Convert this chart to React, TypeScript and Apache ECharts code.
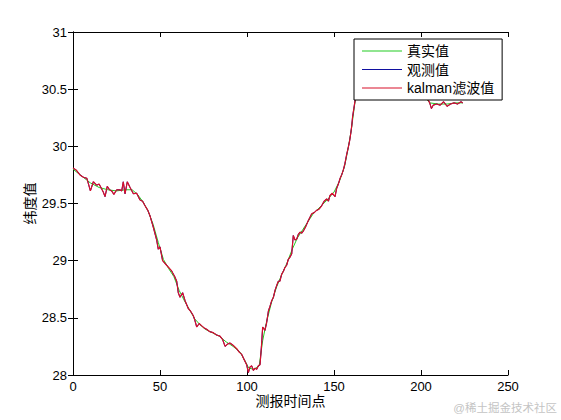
import React, { useEffect, useRef } from "react";
import * as echarts from "echarts";

// True values (smooth)
const trueX = [0, 5, 10, 15, 20, 25, 30, 34, 37, 40, 43, 46, 49, 52, 55, 58, 61, 64, 67, 70, 73, 76, 80, 84, 88, 92, 96, 99, 101, 104, 107, 109, 111, 114, 117, 120, 123, 126, 129, 132, 135, 138, 142, 146, 150, 153, 156, 158, 160, 162, 164, 170, 180, 190, 200, 205, 210, 215, 220, 224];
const trueY = [29.8, 29.74, 29.68, 29.64, 29.62, 29.61, 29.62, 29.62, 29.58, 29.52, 29.44, 29.32, 29.16, 29.01, 28.93, 28.86, 28.74, 28.65, 28.57, 28.49, 28.44, 28.4, 28.37, 28.34, 28.29, 28.25, 28.2, 28.12, 28.06, 28.05, 28.08, 28.3, 28.45, 28.63, 28.77, 28.88, 28.98, 29.1, 29.2, 29.27, 29.34, 29.41, 29.47, 29.53, 29.6, 29.69, 29.82, 29.97, 30.15, 30.38, 30.5, 30.53, 30.53, 30.52, 30.47, 30.38, 30.37, 30.37, 30.38, 30.38];

// Time points for observed and filtered series
const measX = [0, 2, 4, 6, 8, 10, 11.7, 13.6, 15, 17.4, 18.4, 19.7, 21, 22.2, 23.5, 25.1, 27, 28, 28.9, 29.9, 31.2, 32.8, 34.7, 36.6, 38.5, 40, 41.4, 43, 44.3, 46.2, 48.1, 49, 50, 51.5, 53.8, 56.7, 58.5, 59.6, 60.5, 61.5, 63, 64.4, 66.3, 67.5, 69.1, 70, 71.1, 72.5, 74, 75.5, 76.8, 78.5, 80.6, 82.5, 84.5, 86, 87.4, 88.8, 90.2, 92, 94.1, 95.5, 97, 98.5, 99.8, 100.8, 101.7, 102.7, 103.7, 104.6, 105.6, 106.5, 107.5, 108.3, 109, 110.3, 111.2, 112.3, 113.2, 114.2, 115.2, 116.1, 117, 118, 118.9, 119.9, 121, 121.8, 122.8, 123.7, 124.7, 125.7, 126.6, 127.6, 128.6, 129.5, 130.5, 131.5, 132.4, 133.8, 135.2, 136.2, 137.2, 138.6, 140, 141.4, 142.9, 144.3, 145.8, 146.8, 147.7, 149, 150.6, 151.5, 152.5, 153.5, 154.4, 155.3, 156.3, 157.3, 158.2, 159, 159.6, 160.2, 160.7, 161.4, 162.1, 163, 164, 166, 170, 175, 180, 185, 190, 195, 200, 203, 205, 206, 207, 209, 211, 213, 215, 217, 219, 221, 223, 224];

// Observed values
const obsY = [29.81, 29.79, 29.75, 29.73, 29.72, 29.61, 29.69, 29.66, 29.67, 29.6, 29.56, 29.65, 29.62, 29.61, 29.58, 29.62, 29.62, 29.61, 29.69, 29.585, 29.69, 29.64, 29.585, 29.59, 29.53, 29.52, 29.48, 29.44, 29.39, 29.29, 29.18, 29.1, 29.12, 29.0, 28.96, 28.91, 28.86, 28.82, 28.72, 28.68, 28.72, 28.65, 28.58, 28.56, 28.52, 28.48, 28.42, 28.45, 28.43, 28.41, 28.4, 28.38, 28.37, 28.35, 28.34, 28.31, 28.25, 28.27, 28.28, 28.26, 28.23, 28.2, 28.18, 28.13, 28.09, 28.02, 28.07, 28.08, 28.04, 28.06, 28.05, 28.08, 28.09, 28.25, 28.42, 28.39, 28.45, 28.56, 28.6, 28.65, 28.68, 28.74, 28.78, 28.82, 28.82, 28.88, 28.91, 28.94, 28.96, 29.01, 29.03, 29.06, 29.22, 29.18, 29.19, 29.23, 29.25, 29.24, 29.26, 29.3, 29.35, 29.38, 29.41, 29.42, 29.44, 29.45, 29.48, 29.52, 29.54, 29.52, 29.57, 29.59, 29.56, 29.63, 29.67, 29.72, 29.75, 29.79, 29.85, 29.93, 29.99, 30.05, 30.11, 30.18, 30.26, 30.33, 30.4, 30.47, 30.52, 30.55, 30.54, 30.55, 30.53, 30.55, 30.52, 30.5, 30.48, 30.44, 30.38, 30.33, 30.36, 30.37, 30.36, 30.39, 30.35, 30.37, 30.38, 30.37, 30.39, 30.38];

// Kalman filtered values
const kalY = [29.81, 29.79, 29.75, 29.73, 29.72, 29.61, 29.69, 29.66, 29.67, 29.6, 29.56, 29.65, 29.62, 29.61, 29.58, 29.62, 29.62, 29.61, 29.69, 29.585, 29.69, 29.64, 29.585, 29.59, 29.53, 29.52, 29.48, 29.44, 29.39, 29.29, 29.18, 29.1, 29.12, 29.0, 28.96, 28.91, 28.86, 28.82, 28.72, 28.68, 28.72, 28.65, 28.58, 28.56, 28.52, 28.48, 28.42, 28.45, 28.43, 28.41, 28.4, 28.38, 28.37, 28.35, 28.34, 28.31, 28.25, 28.27, 28.28, 28.26, 28.23, 28.2, 28.18, 28.13, 28.09, 28.02, 28.07, 28.08, 28.04, 28.06, 28.05, 28.08, 28.09, 28.25, 28.42, 28.39, 28.45, 28.56, 28.6, 28.65, 28.68, 28.74, 28.78, 28.82, 28.82, 28.88, 28.91, 28.94, 28.96, 29.01, 29.03, 29.06, 29.22, 29.18, 29.19, 29.23, 29.25, 29.24, 29.26, 29.3, 29.35, 29.38, 29.41, 29.42, 29.44, 29.45, 29.48, 29.52, 29.54, 29.52, 29.57, 29.59, 29.56, 29.63, 29.67, 29.72, 29.75, 29.79, 29.85, 29.93, 29.99, 30.05, 30.11, 30.18, 30.26, 30.33, 30.4, 30.47, 30.52, 30.55, 30.54, 30.55, 30.53, 30.55, 30.52, 30.5, 30.48, 30.44, 30.38, 30.33, 30.36, 30.37, 30.36, 30.39, 30.35, 30.37, 30.38, 30.37, 30.39, 30.38];

const seriesNames = ["真实值", "观测值", "kalman滤波值"];
const seriesColors = ["#22cc22", "#1010a0", "#d8102a"];

const FONT = 'Arial, "Liberation Sans", "Noto Sans CJK SC", sans-serif';
const LINE_ICON = "path://M0,0L0,0ZM0,6.5L40,6.5L40,7.5L0,7.5ZM40,14L40,14Z";

export default function App() {
  const ref = useRef<HTMLDivElement>(null);
  useEffect(() => {
    if (!ref.current) return;
    const chart = echarts.init(ref.current, undefined, { renderer: "svg" });
    const pairs = (xs: number[], ys: number[]) => xs.map((x, i) => [x, ys[i]]);
    const lineStyle = { color: "#000", width: 1 };
    const option: any = {
      animation: false,
      backgroundColor: "#fff",
      textStyle: { fontFamily: FONT },
      grid: { left: 73, right: 53, top: 32, bottom: 45 },
      legend: {
        left: 354,
        top: 39,
        orient: "vertical",
        backgroundColor: "#fff",
        borderColor: "#000",
        borderWidth: 1,
        borderRadius: 0,
        padding: [5, 8, 5, 8],
        itemWidth: 40,
        itemHeight: 14,
        itemGap: 4.5,
        icon: LINE_ICON,
        textStyle: { fontSize: 14, color: "#000", fontFamily: FONT },
        data: seriesNames,
      },
      xAxis: [
        {
          type: "value",
          min: 0,
          max: 250,
          interval: 50,
          name: "测报时间点",
          nameLocation: "middle",
          nameGap: 19,
          nameMoveOverlap: false,
          nameTextStyle: { fontSize: 14, color: "#000", fontFamily: FONT },
          axisLine: { lineStyle },
          axisTick: { inside: true, length: 5, lineStyle },
          axisLabel: { color: "#000", fontSize: 13, margin: 5, fontFamily: FONT },
          splitLine: { show: false },
        },
        {
          type: "value",
          position: "top",
          min: 0,
          max: 250,
          interval: 50,
          axisLine: { show: true, lineStyle },
          axisTick: { inside: true, length: 5, lineStyle },
          axisLabel: { show: false },
          splitLine: { show: false },
        },
      ],
      yAxis: [
        {
          type: "value",
          min: 28,
          max: 31,
          interval: 0.5,
          name: "纬度值",
          nameLocation: "middle",
          nameGap: 36,
          nameMoveOverlap: false,
          nameTextStyle: { fontSize: 14, color: "#000", fontFamily: FONT },
          axisLine: { show: true, lineStyle },
          axisTick: { show: true, inside: true, length: 5, lineStyle },
          axisLabel: { color: "#000", fontSize: 13, margin: 6, fontFamily: FONT },
          splitLine: { show: false },
        },
        {
          type: "value",
          position: "right",
          min: 28,
          max: 31,
          interval: 0.5,
          axisLine: { show: true, lineStyle },
          axisTick: { show: true, inside: true, length: 5, lineStyle },
          axisLabel: { show: false },
          splitLine: { show: false },
        },
      ],
      series: [
        {
          name: seriesNames[0],
          type: "line",
          data: pairs(trueX, trueY),
          symbol: "none",
          color: seriesColors[0],
          lineStyle: { width: 1, color: seriesColors[0] },
        },
        {
          name: seriesNames[1],
          type: "line",
          data: pairs(measX, obsY),
          symbol: "none",
          color: seriesColors[1],
          lineStyle: { width: 1, color: seriesColors[1] },
        },
        {
          name: seriesNames[2],
          type: "line",
          data: pairs(measX, kalY),
          symbol: "none",
          color: seriesColors[2],
          lineStyle: { width: 1.2, color: seriesColors[2] },
        },
      ],
      graphic: [
        {
          type: "text",
          right: 4,
          top: 402,
          style: {
            text: "@稀土掘金技术社区",
            fontSize: 11.5,
            fill: "#c4c4c4",
            fontFamily: FONT,
          },
        },
      ],
    };
    chart.setOption(option);
    return () => chart.dispose();
  }, []);
  return <div ref={ref} style={{ width: 561, height: 420, position: "fixed", left: 0, top: 0 }} />;
}
